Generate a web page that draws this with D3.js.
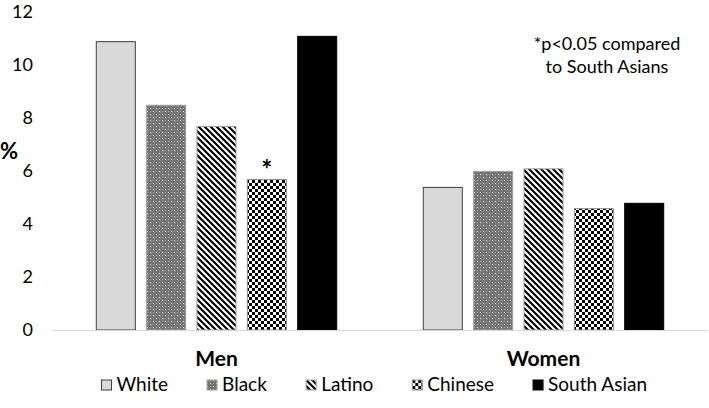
<!DOCTYPE html>
<html>
<head>
<meta charset="utf-8">
<script src="https://cdn.jsdelivr.net/npm/d3@7"></script>
<style>
  html, body { margin: 0; padding: 0; background: #fff; }
  svg { display: block; }
  text { font-family: Lato, "Noto Sans", sans-serif; fill: #000; }
</style>
</head>
<body>
<svg id="chart" width="709" height="408"></svg>
<script>
// ---- data ----
const groups = ["Men", "Women"];
const series = ["White", "Black", "Latino", "Chinese", "South Asian"];
const menValues = [10.9, 8.5, 7.7, 5.7, 11.1];
const womenValues = [5.4, 6.0, 6.1, 4.6, 4.8];
const yTicks = [0, 2, 4, 6, 8, 10, 12];
const significant = [{ group: "Men", series: "Chinese" }];
const note = ["*p<0.05 compared", "to South Asians"];
const yLabel = "%";

const svg = d3.select("#chart");
const W = 709, H = 408;
const plot = { left: 53, right: 707, top: 12, bottom: 330 };

// ---- patterns ----
const defs = svg.append("defs");
// dotted (Black)
const pDots = defs.append("pattern").attr("id", "pDots")
  .attr("width", 6).attr("height", 6).attr("patternUnits", "userSpaceOnUse");
pDots.append("rect").attr("width", 6).attr("height", 6).attr("fill", "#737373");
[[0,0,"#e8e8e8"],[3,3,"#e8e8e8"],[3,0,"#a8a8a8"],[0,3,"#a8a8a8"],[1,1,"#8c8c8c"],[4,4,"#8c8c8c"]]
  .forEach(([x,y,c]) => pDots.append("rect").attr("x", x).attr("y", y).attr("width", 1).attr("height", 1).attr("fill", c));
// diagonal stripes (Latino)
const pDiag = defs.append("pattern").attr("id", "pDiag")
  .attr("width", 6).attr("height", 6).attr("patternUnits", "userSpaceOnUse");
pDiag.append("rect").attr("width", 6).attr("height", 6).attr("fill", "#fff");
pDiag.append("path").attr("d", "M-1,-1 L7,7 M-4,2 L2,8 M4,-2 L10,4")
  .attr("stroke", "#000").attr("stroke-width", 2.1);
// checkerboard (Chinese)
const pCheck = defs.append("pattern").attr("id", "pCheck")
  .attr("width", 6).attr("height", 6).attr("patternUnits", "userSpaceOnUse");
pCheck.append("rect").attr("width", 6).attr("height", 6).attr("fill", "#fff");
pCheck.append("rect").attr("width", 3).attr("height", 3).attr("fill", "#000");
pCheck.append("rect").attr("x", 3).attr("y", 3).attr("width", 3).attr("height", 3).attr("fill", "#000");

const fills = { "White": "#d9d9d9", "Black": "url(#pDots)", "Latino": "url(#pDiag)", "Chinese": "url(#pCheck)", "South Asian": "#000" };
const strokes = { "White": "#404040", "Black": "#a0a0a0", "Latino": "#a0a0a0", "Chinese": "#909090", "South Asian": "#000" };

// ---- scales ----
const x0 = d3.scaleBand().domain(groups).range([plot.left, plot.right]).paddingInner(0).paddingOuter(0);
const x1 = d3.scaleBand().domain(series).range([0, x0.bandwidth()]).paddingInner(0.205).paddingOuter(0.85);
const y = d3.scaleLinear().domain([0, 12]).range([plot.bottom, plot.top]);

// ---- y axis labels ----
const yAxis = d3.axisLeft(y).tickValues(yTicks).tickSize(0).tickPadding(0).tickFormat(d3.format("d"));
const gy = svg.append("g").attr("transform", `translate(${plot.left - 20},0)`).call(yAxis);
gy.select(".domain").remove();
gy.selectAll("text").attr("font-size", 18).attr("font-family", "Lato, sans-serif").attr("fill", "#111");

svg.append("text").attr("x", 0).attr("y", y(6.45)).attr("font-size", 22).attr("font-weight", "bold").text(yLabel);

// ---- bars ----
const data = [];
groups.forEach((g, gi) => {
  const vals = gi === 0 ? menValues : womenValues;
  series.forEach((s, si) => data.push({ group: g, series: s, value: vals[si] }));
});

svg.append("g").selectAll("rect").data(data).join("rect")
  .attr("x", d => x0(d.group) + x1(d.series) + 0.5)
  .attr("y", d => y(d.value) + 0.5)
  .attr("width", x1.bandwidth() - 1)
  .attr("height", d => y(0) - y(d.value) - 0.5)
  .attr("fill", d => fills[d.series])
  .attr("stroke", d => strokes[d.series])
  .attr("stroke-width", 1);

// baseline
svg.append("line").attr("x1", plot.left).attr("x2", plot.right)
  .attr("y1", y(0) + 0.5).attr("y2", y(0) + 0.5)
  .attr("stroke", "#d9d9d9").attr("stroke-width", 1.2);

// significance marks
significant.forEach(sig => {
  const v = (sig.group === "Men" ? menValues : womenValues)[series.indexOf(sig.series)];
  svg.append("text")
    .attr("x", x0(sig.group) + x1(sig.series) + x1.bandwidth() / 2)
    .attr("y", y(v) - 0)
    .attr("text-anchor", "middle").attr("font-size", 26).attr("font-weight", "bold")
    .text("*");
});

// category labels
svg.append("g").selectAll("text").data(groups).join("text")
  .attr("x", d => x0(d) + x0.bandwidth() / 2)
  .attr("y", 366)
  .attr("text-anchor", "middle").attr("font-size", 21).attr("font-weight", "bold")
  .text(d => d);

// note
svg.append("g").selectAll("text").data(note).join("text")
  .attr("x", 607).attr("y", (d, i) => 50 + i * 23)
  .attr("text-anchor", "middle").attr("font-size", 18).attr("fill", "#111")
  .text(d => d);

// legend
const lg = svg.append("g");
const items = lg.selectAll("g").data(series).join("g");
items.append("rect").attr("width", 10).attr("height", 10)
  .attr("fill", d => fills[d]).attr("stroke", d => strokes[d]).attr("stroke-width", 1);
items.append("text").attr("x", 15).attr("y", 11).attr("font-size", 19).attr("fill", "#111").text(d => d);
let cx = 0;
const gap = 39;
items.each(function() {
  const w = this.getBBox().width;
  d3.select(this).attr("data-x", cx);
  cx += w + gap;
});
const total = cx - gap;
const startX = 647 - total;
items.attr("transform", function() { return `translate(${startX + (+this.getAttribute("data-x"))},${380})`; });
</script>
</body>
</html>
